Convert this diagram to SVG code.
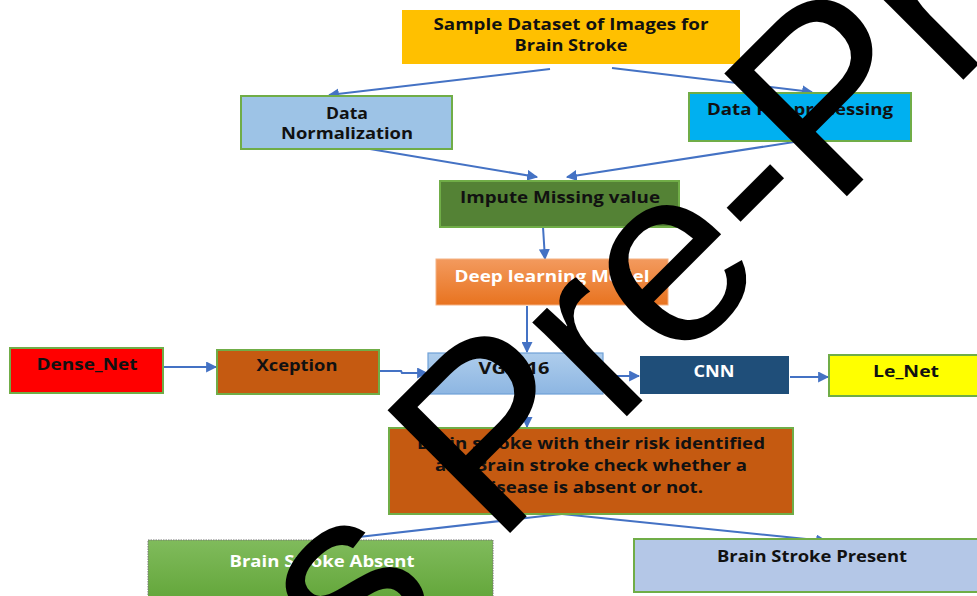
<svg xmlns="http://www.w3.org/2000/svg" width="977" height="596" viewBox="0 0 977 596">
<style>
.lbl{font-family:"Open Sans","Liberation Sans",Arial,sans-serif;font-weight:700;font-size:15.5px;fill:#111;text-anchor:middle}
.wt{fill:#fff}
.conn{stroke:#4472C4;stroke-width:2;fill:none}
.gb{stroke:#70AD47;stroke-width:2}
</style>
<defs>
<marker id="ah" viewBox="0 0 10 10" refX="9" refY="5" markerWidth="5.5" markerHeight="5.5" orient="auto" markerUnits="strokeWidth">
<path d="M0,0 L10,5 L0,10 z" fill="#4472C4"/>
</marker>
<linearGradient id="gDeep" x1="0" y1="0" x2="0" y2="1">
<stop offset="0" stop-color="#F39A5E"/><stop offset="1" stop-color="#E8731F"/>
</linearGradient>
<linearGradient id="gAbs" x1="0" y1="0" x2="0" y2="1">
<stop offset="0" stop-color="#80BB5C"/><stop offset="1" stop-color="#63A63A"/>
</linearGradient>
<linearGradient id="gVgg" x1="0" y1="0" x2="0" y2="1">
<stop offset="0" stop-color="#AECDEC"/><stop offset="1" stop-color="#8DB6E2"/>
</linearGradient>
</defs>
<rect width="977" height="596" fill="#fff"/>

<g id="connectors">
<line class="conn" x1="550" y1="69" x2="329" y2="95" marker-end="url(#ah)"/>
<line class="conn" x1="612" y1="68" x2="812" y2="92" marker-end="url(#ah)"/>
<line class="conn" x1="370" y1="149" x2="537" y2="177" marker-end="url(#ah)"/>
<line class="conn" x1="794" y1="142" x2="567" y2="177" marker-end="url(#ah)"/>
<line class="conn" x1="543" y1="227" x2="545" y2="259" marker-end="url(#ah)"/>
<line class="conn" x1="527" y1="306" x2="527" y2="352" marker-end="url(#ah)"/>
<line class="conn" x1="527" y1="395" x2="527" y2="427" marker-end="url(#ah)"/>
<line class="conn" x1="164" y1="367" x2="216" y2="367" marker-end="url(#ah)"/>
<polyline class="conn" points="380,371 401,371 402,373 427,373" marker-end="url(#ah)"/>
<line class="conn" x1="603" y1="376" x2="639" y2="376" marker-end="url(#ah)"/>
<line class="conn" x1="790" y1="377" x2="828" y2="377" marker-end="url(#ah)"/>
<line class="conn" x1="562" y1="514" x2="332" y2="540" marker-end="url(#ah)"/>
<line class="conn" x1="562" y1="514" x2="826" y2="541" marker-end="url(#ah)"/>
</g>

<g id="sample">
<rect x="402" y="10" width="338" height="54" fill="#FFC000"/>
<text class="lbl" x="571" y="30" textLength="275" lengthAdjust="spacingAndGlyphs">Sample Dataset of Images for</text>
<text class="lbl" x="571" y="51" textLength="113" lengthAdjust="spacingAndGlyphs">Brain Stroke</text>
</g>

<g id="normalization">
<rect class="gb" x="241" y="96" width="211" height="53" fill="#9DC3E6"/>
<text class="lbl" x="347" y="119" textLength="42" lengthAdjust="spacingAndGlyphs">Data</text>
<text class="lbl" x="347" y="139" textLength="132" lengthAdjust="spacingAndGlyphs">Normalization</text>
</g>

<g id="preprocessing">
<rect class="gb" x="689" y="93" width="222" height="48" fill="#00B0F0"/>
<text class="lbl" x="800" y="115" textLength="186" lengthAdjust="spacingAndGlyphs">Data Pre-processing</text>
</g>

<g id="impute">
<rect class="gb" x="440" y="181" width="239" height="46" fill="#548235"/>
<text class="lbl" x="560" y="203" textLength="200" lengthAdjust="spacingAndGlyphs">Impute Missing value</text>
</g>

<g id="deep">
<rect x="436" y="259" width="232" height="46" fill="url(#gDeep)" stroke="#F4B183" stroke-width="1"/>
<text class="lbl wt" x="552" y="282" textLength="195" lengthAdjust="spacingAndGlyphs">Deep learning Model</text>
</g>

<g id="densenet">
<rect class="gb" x="10" y="348" width="153" height="45" fill="#FF0000"/>
<text class="lbl" x="87" y="370" textLength="101" lengthAdjust="spacingAndGlyphs">Dense_Net</text>
</g>

<g id="xception">
<rect class="gb" x="217" y="350" width="162" height="44" fill="#C55A11"/>
<text class="lbl" x="297" y="371" textLength="81" lengthAdjust="spacingAndGlyphs">Xception</text>
</g>

<g id="vgg">
<rect x="428" y="353" width="175" height="41" fill="url(#gVgg)" stroke="#6FA1D8" stroke-width="1.2"/>
<text class="lbl" x="514" y="374" textLength="71" lengthAdjust="spacingAndGlyphs">VGG-16</text>
</g>

<g id="cnn">
<rect x="640" y="356" width="149" height="38" fill="#1F4E79"/>
<text class="lbl wt" x="714" y="377" textLength="41" lengthAdjust="spacingAndGlyphs">CNN</text>
</g>

<g id="lenet">
<rect class="gb" x="829" y="355" width="160" height="41" fill="#FFFF00"/>
<text class="lbl" x="906" y="377" textLength="66" lengthAdjust="spacingAndGlyphs">Le_Net</text>
</g>

<g id="risk">
<rect class="gb" x="389" y="428" width="404" height="86" fill="#C55A11"/>
<text class="lbl" x="591" y="449" textLength="348" lengthAdjust="spacingAndGlyphs">Brain stroke with their risk identified</text>
<text class="lbl" x="591" y="471" textLength="312" lengthAdjust="spacingAndGlyphs">and Brain stroke check whether a</text>
<text class="lbl" x="591" y="493" textLength="224" lengthAdjust="spacingAndGlyphs">disease is absent or not.</text>
</g>

<g id="absent">
<rect x="148" y="540" width="345" height="60" fill="url(#gAbs)" stroke="#777" stroke-width="1" stroke-dasharray="1.5,1"/>
<text class="lbl wt" x="322" y="567" textLength="185" lengthAdjust="spacingAndGlyphs">Brain Stroke Absent</text>
</g>

<g id="present">
<rect class="gb" x="634" y="539" width="360" height="53" fill="#B4C7E7"/>
<text class="lbl" x="812" y="562" textLength="190" lengthAdjust="spacingAndGlyphs">Brain Stroke Present</text>
</g>

<g id="watermark">
<text transform="translate(357,686) rotate(-45)" font-family="Liberation Sans, Arial, sans-serif" font-size="252" fill="#000">s Pre-Pr</text>
</g>
</svg>
